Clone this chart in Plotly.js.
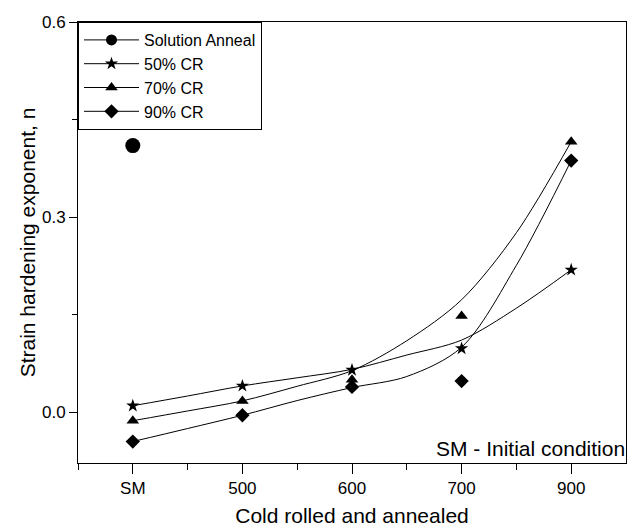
<!DOCTYPE html>
<html>
<head>
<meta charset="utf-8">
<script src="https://cdn.plot.ly/plotly-3.0.1.min.js"></script>
<style>html,body{margin:0;padding:0;background:#fff;}#chart{width:627px;height:527px;}</style>
</head>
<body>
<div id="chart"></div>
<script>
// Category labels of the x axis
const categories = ['SM', '500', '600', '700', '900'];
// Measured strain hardening exponent n
const solutionAnneal = [0.41];           // only at SM
const cr50 = [0.010, 0.0405, 0.065, 0.098, 0.219];
const cr70 = [-0.013, 0.0175, 0.050, 0.148, 0.416];
const cr90 = [-0.045, -0.0046, 0.039, 0.048, 0.387];
// Fitted curves at half-category steps
const fitPos = [0, 0.5, 1, 1.5, 2, 2.5, 3, 3.5, 4];
const fit50 = [0.010, 0.025, 0.0405, 0.053, 0.066, 0.088, 0.111, 0.160, 0.219];
const fit70 = [-0.013, 0.002, 0.0175, 0.040, 0.064, 0.110, 0.173, 0.276, 0.416];
const fit90 = [-0.045, -0.025, -0.0046, 0.018, 0.038, 0.055, 0.100, 0.226, 0.387];
const yTicks = [0.0, 0.3, 0.6];

const idx = categories.map((c, i) => i);
const font = 'Arial, "Liberation Sans", Helvetica, sans-serif';

const series = [
  {name: 'Solution Anneal', y: solutionAnneal, fit: null, symbol: 'circle', size: 15, lsize: 11},
  {name: '50% CR', y: cr50, fit: fit50, symbol: 'star', size: 10, lsize: 10},
  {name: '70% CR', y: cr70, fit: fit70, symbol: 'triangle-up', size: 11, lsize: 11},
  {name: '90% CR', y: cr90, fit: fit90, symbol: 'diamond', size: 11, lsize: 11}
];

const traces = [];
series.forEach(s => {
  if (s.fit) {
    traces.push({
      x: fitPos, y: s.fit, mode: 'lines', type: 'scatter',
      line: {color: '#000', width: 1, shape: 'spline', smoothing: 0.9},
      showlegend: false, hoverinfo: 'skip'
    });
  }
  traces.push({
    x: idx.slice(0, s.y.length), y: s.y, mode: 'markers', type: 'scatter',
    marker: {symbol: s.symbol, size: s.size, color: '#000', line: {width: 0}},
    showlegend: false, name: s.name
  });
  // legend entry (line + marker)
  traces.push({
    x: [null], y: [null], mode: 'lines+markers', type: 'scatter', name: s.name,
    line: {color: '#000', width: 1},
    marker: {symbol: s.symbol, size: s.lsize, color: '#000'},
    showlegend: true
  });
});

const layout = {
  width: 627, height: 527,
  margin: {l: 78, r: 1, t: 22, b: 64, pad: 0},
  paper_bgcolor: '#fff', plot_bgcolor: '#fff',
  font: {family: font, color: '#000', size: 17},
  showlegend: true,
  legend: {x: 0, y: 1, xanchor: 'left', yanchor: 'top', bgcolor: '#fff',
           bordercolor: '#000', borderwidth: 1, font: {size: 16, family: font},
           tracegroupgap: 0, itemwidth: 55},
  xaxis: {
    range: [-0.5, 4.5], tickmode: 'array', tickvals: idx, ticktext: categories,
    ticks: 'outside', ticklen: 10, tickwidth: 1, tickcolor: '#000',
    showline: true, linecolor: '#000', linewidth: 1, mirror: true,
    showgrid: false, zeroline: false,
    tickfont: {size: 17, family: font},
    minor: {tickmode: 'array', tickvals: [-0.5, 0.5, 1.5, 2.5, 3.5], ticks: 'outside', ticklen: 6, tickcolor: '#000', showgrid: false},
    title: {text: 'Cold rolled and annealed', font: {size: 21, family: font}, standoff: 12}
  },
  yaxis: {
    range: [-0.078, 0.6], tickmode: 'array', tickvals: yTicks, tickformat: '.1f',
    ticks: 'outside', ticklen: 8, tickwidth: 1, tickcolor: '#000',
    showline: true, linecolor: '#000', linewidth: 1, mirror: true,
    showgrid: false, zeroline: false,
    tickfont: {size: 17, family: font},
    minor: {dtick: 0.15, tick0: 0, ticks: 'outside', ticklen: 5, tickcolor: '#000', showgrid: false},
    title: {text: 'Strain hardening exponent, n', font: {size: 21, family: font}, standoff: 0}
  },
  annotations: [{
    text: 'SM - Initial condition', xref: 'paper', yref: 'paper', x: 1, y: 0,
    xanchor: 'right', yanchor: 'bottom', showarrow: false, xshift: 1, yshift: 1,
    font: {size: 21, family: font, color: '#000'}
  }]
};

Plotly.newPlot('chart', traces, layout, {staticPlot: true, displayModeBar: false});
</script>
</body>
</html>
